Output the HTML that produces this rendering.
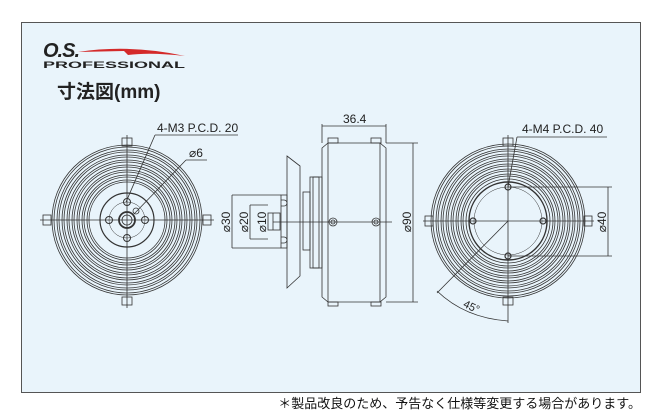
<!DOCTYPE html>
<html><head><meta charset="utf-8"><style>
html,body{margin:0;padding:0;background:#fff;}
body{width:666px;height:416px;overflow:hidden;position:relative;font-family:"Liberation Sans","Noto Sans CJK JP",sans-serif;}
svg{position:absolute;left:0;top:0;}
</style></head><body>
<svg width="666" height="416" viewBox="0 0 666 416" xmlns="http://www.w3.org/2000/svg" font-family="Liberation Sans, Noto Sans CJK JP, sans-serif">
<rect x="21.5" y="22.5" width="619" height="370" fill="#e9f4fb" stroke="#555" stroke-width="1"/>
<!-- logo -->
<text x="43" y="57" font-size="20" font-weight="bold" font-style="italic" fill="#222" letter-spacing="-1">O.S.</text>
<path d="M78 52 Q130 44 185 56 Q150 52 128 55 L124 51 Z" fill="#d42a2a"/>
<text x="43" y="68" font-size="9" font-weight="bold" fill="#222" textLength="142" lengthAdjust="spacingAndGlyphs">PROFESSIONAL</text>
<text x="57" y="98" font-size="19" font-weight="bold" fill="#222">寸法図(mm)</text>

<g fill="none" stroke="#333" stroke-width="0.8">
<!-- LEFT VIEW -->
<g id="L">
<rect x="122" y="138" width="10" height="8"/><rect x="122" y="297" width="10" height="8"/>
<rect x="43" y="215" width="8" height="10"/><rect x="203" y="215" width="8" height="10"/>
<circle cx="127" cy="220" r="75"/><circle cx="127" cy="220" r="73"/>
<circle cx="127" cy="220" r="70"/><circle cx="127" cy="220" r="68"/>
<circle cx="127" cy="220" r="65"/><circle cx="127" cy="220" r="63"/>
<circle cx="127" cy="220" r="60"/><circle cx="127" cy="220" r="58"/>
<circle cx="127" cy="220" r="55"/><circle cx="127" cy="220" r="53"/>
<circle cx="127" cy="220" r="50"/><circle cx="127" cy="220" r="48"/>
<circle cx="127" cy="220" r="45"/><circle cx="127" cy="220" r="43"/>
<circle cx="127" cy="220" r="40"/><circle cx="127" cy="220" r="38"/>
<circle cx="127" cy="220" r="27" stroke-width="1.2"/>
<circle cx="127" cy="220" r="18" stroke-width="0.5"/>
<circle cx="127" cy="220" r="8" stroke-width="1.8"/><circle cx="127" cy="220" r="5"/>
<circle cx="127" cy="202" r="3.5" stroke-width="1"/><circle cx="127" cy="238" r="3.5" stroke-width="1"/>
<circle cx="109" cy="220" r="3.5" stroke-width="1"/><circle cx="145" cy="220" r="3.5" stroke-width="1"/>
<circle cx="136" cy="211" r="3"/>
<line x1="40" y1="220" x2="214" y2="220"/><line x1="127" y1="135" x2="127" y2="308"/>
<line x1="126" y1="202" x2="155" y2="135"/><line x1="155" y1="135" x2="238" y2="135"/>
<line x1="134" y1="214" x2="186" y2="160"/><line x1="186" y1="160" x2="207" y2="160"/>
</g>
<!-- SIDE VIEW -->
<polygon points="287,156 300,166 300,276 287,288"/>
<rect x="310" y="177" width="12" height="91"/><rect x="313" y="177" width="6" height="91"/>
<rect x="303" y="192" width="7" height="58"/>
<rect x="281" y="195" width="6" height="53"/>
<path d="M281 200 h3 a3 3 0 0 1 0 6 h-3 M281 237 h3 a3 3 0 0 1 0 6 h-3"/>
<path d="M322 148 L328 143 L380 143 L386 148 L386 297 L380 302 L328 302 L322 297 Z"/>
<line x1="328" y1="143" x2="328" y2="302"/><line x1="380" y1="143" x2="380" y2="302"/>
<rect x="328" y="138" width="10" height="5"/><rect x="371" y="138" width="10" height="5"/>
<rect x="328" y="302" width="10" height="4"/><rect x="371" y="302" width="10" height="4"/>
<circle cx="333" cy="222" r="4"/><circle cx="333" cy="222" r="2"/>
<circle cx="376" cy="222" r="4"/><circle cx="376" cy="222" r="2"/>
<line x1="273" y1="222" x2="392" y2="222"/>
<rect x="268" y="213" width="12" height="17"/><line x1="273" y1="213" x2="273" y2="230"/>
<!-- dims -->
<line x1="232" y1="195" x2="281" y2="195"/><line x1="232" y1="248" x2="281" y2="248"/>
<line x1="232" y1="195" x2="232" y2="248"/>
<line x1="250" y1="205" x2="268" y2="205"/><line x1="250" y1="239" x2="268" y2="239"/>
<line x1="250" y1="205" x2="250" y2="239"/>
<line x1="322" y1="124" x2="322" y2="143"/><line x1="386" y1="124" x2="386" y2="143"/>
<line x1="322" y1="126" x2="386" y2="126"/>
<line x1="386" y1="143" x2="418" y2="143"/><line x1="386" y1="302" x2="418" y2="302"/>
<line x1="413" y1="143" x2="413" y2="302"/>
<!-- RIGHT VIEW -->
<rect x="503" y="138" width="10" height="8"/><rect x="503" y="297" width="10" height="8"/>
<rect x="425" y="216" width="8" height="10"/><rect x="584" y="216" width="8" height="10"/>
<circle cx="508" cy="221" r="77"/><circle cx="508" cy="221" r="75"/>
<circle cx="508" cy="221" r="72"/><circle cx="508" cy="221" r="70"/>
<circle cx="508" cy="221" r="67"/><circle cx="508" cy="221" r="65"/>
<circle cx="508" cy="221" r="62"/><circle cx="508" cy="221" r="60"/>
<circle cx="508" cy="221" r="57"/><circle cx="508" cy="221" r="55"/>
<circle cx="508" cy="221" r="52"/><circle cx="508" cy="221" r="50"/>
<circle cx="508" cy="221" r="47"/><circle cx="508" cy="221" r="45"/>
<circle cx="508" cy="221" r="42"/>
<circle cx="508" cy="221" r="39" stroke-width="1.4"/>
<circle cx="508" cy="221" r="34" stroke-width="0.5"/>
<circle cx="508" cy="187" r="3" stroke-width="1.2"/><circle cx="508" cy="256" r="3" stroke-width="1.2"/>
<circle cx="473" cy="221" r="3" stroke-width="1.2"/><circle cx="543" cy="221" r="3" stroke-width="1.2"/>
<line x1="423" y1="221" x2="594" y2="221"/><line x1="508" y1="135" x2="508" y2="323"/>
<line x1="508" y1="221" x2="437" y2="293"/>
<path d="M437 291 Q465 318 508 321"/>
<line x1="517" y1="137" x2="508" y2="187"/><line x1="517" y1="137" x2="607" y2="137"/>
<line x1="508" y1="187" x2="612" y2="187"/><line x1="508" y1="256" x2="612" y2="256"/>
<line x1="608" y1="187" x2="608" y2="256"/>
</g>
<g font-size="12" fill="#222">
<text x="157" y="132">4-M3 P.C.D. 20</text>
<text x="189" y="157">⌀6</text>
<text x="343" y="123">36.4</text>
<text x="522" y="133">4-M4 P.C.D. 40</text>
<text transform="translate(230,222) rotate(-90)" text-anchor="middle">⌀30</text>
<text transform="translate(248,222) rotate(-90)" text-anchor="middle">⌀20</text>
<text transform="translate(266,222) rotate(-90)" text-anchor="middle">⌀10</text>
<text transform="translate(411,222) rotate(-90)" text-anchor="middle">⌀90</text>
<text transform="translate(606,222) rotate(-90)" text-anchor="middle">⌀40</text>
<text transform="translate(470,310) rotate(25)" text-anchor="middle" font-size="11">45°</text>
</g>
<text x="641" y="408" font-size="13" fill="#111" text-anchor="end">＊製品改良のため、予告なく仕様等変更する場合があります。</text>
</svg>
</body></html>
